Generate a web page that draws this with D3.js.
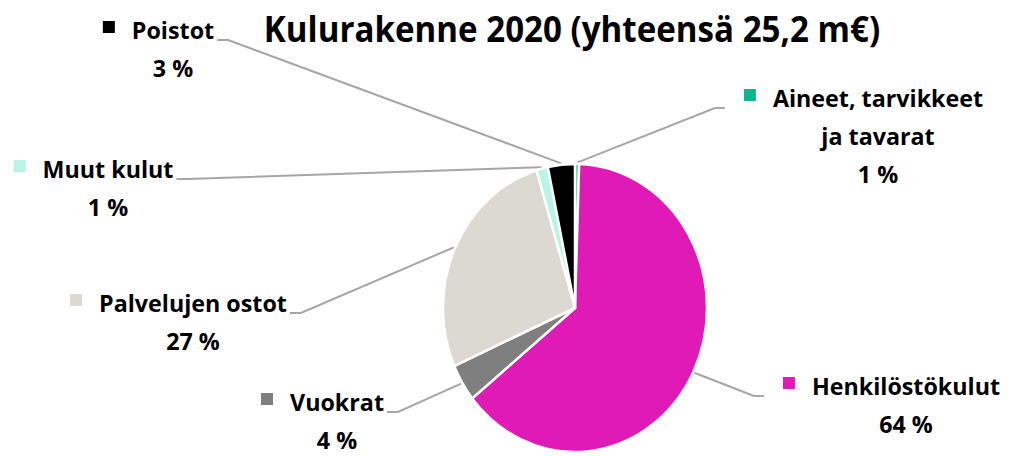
<!DOCTYPE html>
<html>
<head>
<meta charset="utf-8">
<script src="https://cdn.jsdelivr.net/npm/d3@7"></script>
<style>
  body { margin: 0; background: #fff; }
  text { font-family: "Open Sans", sans-serif; font-weight: 700; fill: #000; }
</style>
</head>
<body>
<svg id="chart" width="1011" height="456"></svg>
<script>
// data (shares, %), clockwise from 12 o'clock
var categories = ["Aineet, tarvikkeet ja tavarat", "Henkilöstökulut", "Vuokrat", "Palvelujen ostot", "Muut kulut", "Poistot"];
var values = [0.5, 63.7, 4.2, 26.9, 1.4, 3.3];
var colors = ["#12b389", "#e01ab7", "#7f7f7f", "#dcd8d2", "#b8f5e6", "#000000"];
// label text lines (name may wrap)
var nameLines = [["Aineet, tarvikkeet", "ja tavarat"], ["Henkilöstökulut"], ["Vuokrat"], ["Palvelujen ostot"], ["Muut kulut"], ["Poistot"]];
var title = "Kulurakenne 2020 (yhteensä 25,2 m€)";

// layout: label centre x, first baseline y, which side the leader joins
var labelPos = [
  {x: 878, y: 107, side: "left"},
  {x: 906, y: 395, side: "left"},
  {x: 337, y: 411, side: "right"},
  {x: 193, y: 312, side: "right"},
  {x: 108, y: 178, side: "right"},
  {x: 173, y: 39, side: "right"}
];

var svg = d3.select("#chart");
var cx = 575, cy = 308, rx = 132, ry = 144;
var lineH = 38;
var sx0 = 0.97; // horizontal squeeze of label text

//title
svg.append("text")
    .attr("x", 572).attr("y", 42)
    .attr("text-anchor", "middle")
    .attr("font-size", 36)
    .attr("transform", "translate(572,0) scale(0.92,1) translate(-572,0)")
    .text(title);

var pie = d3.pie().sort(null).value(function(d) { return d; });
var arcs = pie(values);
var arc = d3.arc().innerRadius(0).outerRadius(rx);

// pie drawn as circle then stretched a bit vertically like the original
var pieG = svg.append("g")
    .attr("transform", "translate(" + cx + "," + cy + ") scale(1," + (ry / rx) + ")");

pieG.selectAll("path")
  .data(arcs)
  .enter().append("path")
    .attr("d", arc)
    .attr("fill", function(d, i) { return colors[i]; })
    .attr("stroke", "#fff")
    .attr("stroke-width", 2.5)
    .attr("vector-effect", "non-scaling-stroke");

// labels
var labels = svg.append("g").selectAll("g")
  .data(arcs)
  .enter().append("g")
    .attr("class", "label");

labels.each(function(d, i) {
  var g = d3.select(this);
  var p = labelPos[i];
  var lines = nameLines[i].concat([Math.round(values[i]) + " %"]);
  var t = g.append("text")
      .attr("text-anchor", "middle")
      .attr("font-size", 24)
      .attr("transform", "translate(" + p.x + "," + p.y + ") scale(" + sx0 + ",1)");
  lines.forEach(function(s, j) {
    t.append("tspan").attr("x", 0).attr("y", j * lineH).text(s);
  });

  // width of first line to place the marker and the leader
  var w = t.select("tspan").node().getComputedTextLength() * sx0;
  var left = p.x - w / 2, right = p.x + w / 2;

  g.append("rect")
      .attr("x", left - 29).attr("y", p.y - 18)
      .attr("width", 12).attr("height", 12)
      .attr("fill", colors[i]);

  // leader line: from label to the slice edge at the middle angle
  var a = (d.startAngle + d.endAngle) / 2;
  var ex = cx + rx * 1.01 * Math.sin(a);
  var ey = cy - ry * 1.01 * Math.cos(a);
  var sx, bx;
  if (p.side === "right") { sx = right + 3; bx = sx + 11; }
  else { sx = left - 48; bx = sx - 10; }
  var ly = p.y + 1;
  svg.insert("path", "g")
      .attr("d", d3.line()([[sx, ly], [bx, ly], [ex, ey]]))
      .attr("fill", "none")
      .attr("stroke", "#a6a6a6")
      .attr("stroke-width", 2);
});
</script>
</body>
</html>
